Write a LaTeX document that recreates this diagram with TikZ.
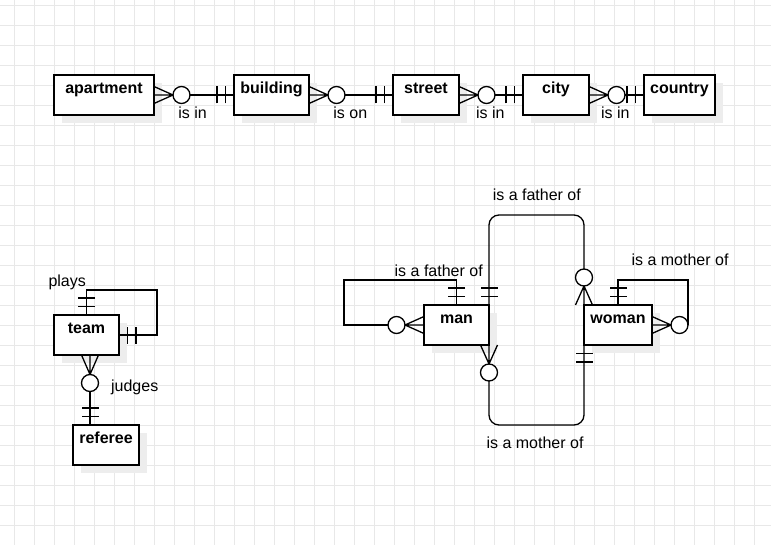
\documentclass[tikz,border=0pt]{standalone}
\usepackage{fontspec}
\setmainfont{Liberation Sans}
\usetikzlibrary{calc,positioning,shadows}
\tikzset{
  entity/.style={draw, line width=1.3pt, fill=white, minimum height=40pt, inner sep=2pt, outer sep=0pt,
    text height=12pt, text depth=15pt, font=\fontsize{16}{19}\selectfont\bfseries,
    drop shadow={shadow xshift=8pt, shadow yshift=-8pt, fill=black!7, opacity=1}},
  zero/.style={circle, draw, line width=1.3pt, fill=white, minimum size=17pt, inner sep=0pt, outer sep=0pt},
  rel/.style={line width=1.3pt},
  relname/.style={anchor=base, inner sep=0pt, font=\fontsize{16}{19}\selectfont},
  gridline/.style={color=gray!18, line width=0.9pt}
}
% crow's foot: tip, base, half spread
\newcommand{\crowfoot}[3]{\draw[rel] (#1) -- ($(#2)+#3$) (#1) -- (#2) (#1) -- ($(#2)-#3$);}
% exactly one: point on the entity, step, half bar
\newcommand{\twobars}[3]{\draw[rel] ($(#1)+#2+#3$) -- ($(#1)+#2-#3$) ($(#1)+2*#2+#3$) -- ($(#1)+2*#2-#3$);}

\begin{document}
\begin{tikzpicture}[x=1pt,y=-1pt]
    \useasboundingbox (0,0) rectangle (771,545);
    \foreach \x in {14,34,...,754} \draw[gridline] (\x,0) -- (\x,545);
    \foreach \y in {5,25,...,545} \draw[gridline] (0,\y) -- (771,\y);

    % entities
    \node[entity, minimum width=100pt] (apartment) at (104,95) {apartment};
    \node[entity, minimum width=75pt] (building) at (271.5,95) {building};
    \node[entity, minimum width=66pt] (street) at (426,95) {street};
    \node[entity, minimum width=66pt] (city) at (556,95) {city};
    \node[entity, minimum width=71pt] (country) at (679.5,95) {country};
    \node[entity, minimum width=65pt] (team) at (86.5,335) {team};
    \node[entity, minimum width=66pt] (referee) at (106,445) {referee};
    \node[entity, minimum width=65pt] (man) at (456.5,325) {man};
    \node[entity, minimum width=68pt] (woman) at (618,325) {woman};

    % zero-or-many ends
    \node[zero, right=19pt of apartment] (aptin) {};
    \node[zero, right=19pt of building] (bldon) {};
    \node[zero, right=19pt of street] (strin) {};
    \node[zero, right=19pt of city] (cityin) {};
    \node[zero] (judges) at (90,383) {};
    \node[zero, left=19pt of man] (fatherself) {};
    \node[zero, right=19pt of woman] (motherself) {};
    \node[zero, above=19pt of woman.north west] (fatherof) {};
    \node[zero, below=19pt of man.south east] (motherof) {};

    % address chain
    \crowfoot{aptin.west}{apartment.east}{(0,8.5)}
    \draw[rel] (aptin) -- (building);
    \twobars{building.west}{(-8.5,0)}{(0,8.5)}
    \crowfoot{bldon.west}{building.east}{(0,8.5)}
    \draw[rel] (bldon) -- (street);
    \twobars{street.west}{(-8.5,0)}{(0,8.5)}
    \crowfoot{strin.west}{street.east}{(0,8.5)}
    \draw[rel] (strin) -- (city);
    \twobars{city.west}{(-8.5,0)}{(0,8.5)}
    \crowfoot{cityin.west}{city.east}{(0,8.5)}
    \draw[rel] (cityin) -- (country);
    \twobars{country.west}{(-8.5,0)}{(0,8.5)}

    % team
    \coordinate (playsloop) at (157,290);
    \draw[rel] (team.north) |- (playsloop) |- (team.east);
    \twobars{team.north}{(0,-8.5)}{(8.5,0)}
    \twobars{team.east}{(8.5,0)}{(0,8.5)}
    \coordinate (teamfoot) at (judges.north |- team.south);
    \coordinate (refhead) at (judges.south |- referee.north);
    \crowfoot{judges.north}{teamfoot}{(8.5,0)}
    \draw[rel] (judges.south) -- (refhead);
    \twobars{refhead}{(0,-8.5)}{(8.5,0)}

    % man and woman
    \coordinate (fathertop) at (536,215);
    \coordinate (motherbot) at (536,425);
    \draw[rel, rounded corners=10pt] (man.north east) -- (man.north east |- fathertop) -- (fathertop -| fatherof) -- (fatherof.north);
    \twobars{man.north east}{(0,-8.5)}{(8.5,0)}
    \crowfoot{fatherof.south}{woman.north west}{(8.5,0)}
    \draw[rel, rounded corners=10pt] (woman.south west) -- (woman.south west |- motherbot) -- (motherbot -| motherof) -- (motherof.south);
    \twobars{woman.south west}{(0,8.5)}{(8.5,0)}
    \crowfoot{motherof.north}{man.south east}{(8.5,0)}
    \coordinate (fatherloop) at (344,280);
    \draw[rel] (man.north) |- (fatherloop) |- (fatherself.west);
    \twobars{man.north}{(0,-8.5)}{(8.5,0)}
    \crowfoot{fatherself.east}{man.west}{(0,8.5)}
    \draw[rel] (woman.north) -- ++(0,-25) -| (motherself.east);
    \twobars{woman.north}{(0,-8.5)}{(8.5,0)}
    \crowfoot{motherself.west}{woman.east}{(0,8.5)}

    % relationship names
    \node[relname] (aptinname) at (192.5,118.3) {is in};
    \node[relname] (bldonname) at (350.3,118.3) {is on};
    \node[relname] (strinname) at (490.3,118.3) {is in};
    \node[relname] (cityinname) at (615.3,118.3) {is in};
    \node[relname] (playsname) at (67.2,286.7) {plays};
    \node[relname] (judgesname) at (134.7,391) {judges};
    \node[relname] (fatherselfname) at (438.7,276.7) {is a father of};
    \node[relname] (fatherofname) at (536.8,200.7) {is a father of};
    \node[relname] (motherselfname) at (680,266) {is a mother of};
    \node[relname] (motherofname) at (535,448.3) {is a mother of};
\end{tikzpicture}
\end{document}
